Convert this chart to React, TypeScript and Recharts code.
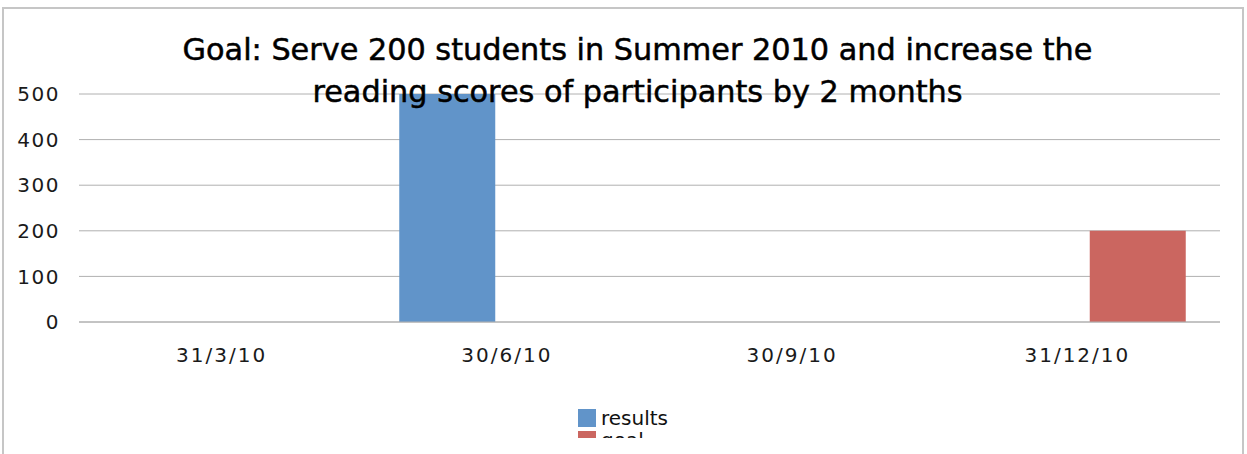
import { Bar, BarChart, CartesianGrid, Legend, XAxis, YAxis } from "recharts";

const categories = ["31/3/10", "30/6/10", "30/9/10", "31/12/10"];
const results = [0, 500, 0, 0];
const goal = [0, 0, 0, 200];
const yTicks = [0, 100, 200, 300, 400, 500];
const seriesOrder = ["results", "goal"];

const data = categories.map((date, i) => ({ date, results: results[i], goal: goal[i] }));

const FONT = "'DejaVu Sans', sans-serif";

const renderLegend = (props: any) => {
  const items = [...(props.payload || [])].sort(
    (a: any, b: any) => seriesOrder.indexOf(a.value) - seriesOrder.indexOf(b.value)
  );
  return (
    <div style={{ fontFamily: FONT, fontSize: 20, color: "#111" }}>
      {items.map((item: any) => (
        <div key={item.value} style={{ display: "flex", alignItems: "center", height: 22, lineHeight: "22px" }}>
          <span style={{ display: "inline-block", width: 18, height: 18, background: item.color, marginRight: 5 }} />
          {item.value}
        </div>
      ))}
    </div>
  );
};

export default function App() {
  return (
    <div style={{ position: "absolute", left: 0, top: 0, width: 1247, height: 454, overflow: "hidden", background: "#fff" }}>
      <div
        style={{
          position: "absolute",
          left: 2,
          top: 7,
          width: 1242,
          height: 500,
          border: "2px solid #c6c6c6",
          boxSizing: "border-box",
        }}
      />
      {/* the reference crops the legend part-way through its second row */}
      <div style={{ position: "absolute", left: 0, top: 0, width: 1247, height: 438, overflow: "hidden" }}>
        <BarChart
          width={1247}
          height={438}
          data={data}
          margin={{ top: 94, right: 27, left: 0, bottom: 86 }}
          barCategoryGap={35}
          barGap={24}
        >
          <CartesianGrid vertical={false} stroke="#b0b0b0" />
          <XAxis
            dataKey="date"
            height={30}
            axisLine={{ stroke: "#b0b0b0" }}
            tickLine={false}
            tickSize={0}
            tickMargin={26}
            tick={{ fontFamily: FONT, fontSize: 20, fill: "#1a1a1a", letterSpacing: 2 }}
          />
          <YAxis
            width={79}
            domain={[0, 500]}
            ticks={yTicks}
            axisLine={false}
            tickLine={false}
            tickSize={0}
            tickMargin={19}
            tick={{ fontFamily: FONT, fontSize: 20, fill: "#1a1a1a", letterSpacing: 1.5 }}
          />
          <Legend
            layout="vertical"
            align="center"
            verticalAlign="middle"
            content={renderLegend}
            wrapperStyle={{ top: 407, left: 578, width: 120 }}
          />
          <Bar dataKey="results" name="results" fill="#6194c9" isAnimationActive={false} />
          <Bar dataKey="goal" name="goal" fill="#cb6660" isAnimationActive={false} />
        </BarChart>
      </div>
      <div
        style={{
          position: "absolute",
          left: 14,
          top: 29,
          width: 1247,
          textAlign: "center",
          fontFamily: FONT,
          fontSize: 30.3,
          lineHeight: "42px",
          color: "#000",
          WebkitTextStroke: "0.5px #000",
          pointerEvents: "none",
        }}
      >
        Goal: Serve 200 students in Summer 2010 and increase the
        <br />
        reading scores of participants by 2 months
      </div>
    </div>
  );
}
